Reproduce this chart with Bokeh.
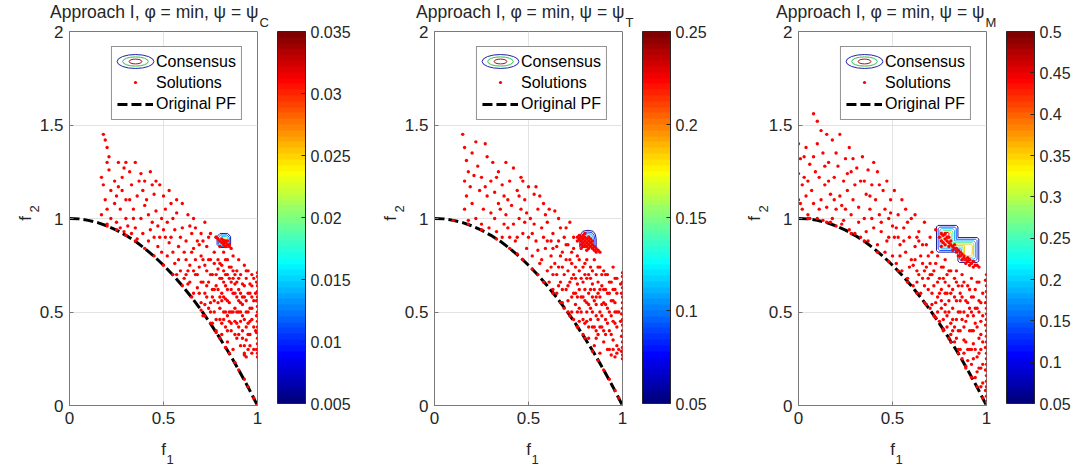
import numpy as np
from bokeh.plotting import figure
from bokeh.layouts import row
from bokeh.models import (Range1d, FixedTicker, CustomJSTickFormatter,
                          Label, Legend, LegendItem, ColorBar, LinearColorMapper,
                          ColumnDataSource)
from bokeh.embed import file_html
from bokeh.resources import INLINE

# ------------------------------------------------------------------ data
x_ticks = [0, 0.5, 1]
y_ticks = [0, 0.5, 1, 1.5, 2]

title_main = "Approach I, \u03c6 = min, \u03c8 = \u03c8"
psi_subscripts = ["C", "T", "M"]

# Original Pareto front
pf_f1 = [0.0, 0.05, 0.1, 0.15, 0.2, 0.25, 0.3, 0.35, 0.4, 0.45, 0.5,
         0.55, 0.6, 0.65, 0.7, 0.75, 0.8, 0.85, 0.9, 0.95, 1.0]
pf_f2 = [1.0, 0.998, 0.99, 0.978, 0.96, 0.938, 0.91, 0.878, 0.84, 0.798, 0.75,
         0.698, 0.64, 0.578, 0.51, 0.438, 0.36, 0.278, 0.19, 0.098, 0.0]

# colour-bar ranges and ticks
cbar_low = [0.005, 0.05, 0.05]
cbar_high = [0.035, 0.25, 0.5]
cbar1_ticks = [0.005, 0.01, 0.015, 0.02, 0.025, 0.03, 0.035]
cbar2_ticks = [0.05, 0.1, 0.15, 0.2, 0.25]
cbar3_ticks = [0.05, 0.1, 0.15, 0.2, 0.25, 0.3, 0.35, 0.4, 0.45, 0.5]

# solutions, panel 1 (psi_C)
sol1 = [
    (0.18, 1.45), (0.19, 1.42), (0.2, 1.38), (0.17, 1.22), (0.18, 1.18), (0.2, 1.3), (0.21, 1.26),
    (0.19, 1.1), (0.2, 1.05), (0.22, 1.15), (0.21, 1.33), (0.17, 1.02), (0.22, 1.0), (0.2, 0.97),
    (0.24, 1.2), (0.25, 1.12), (0.26, 1.3), (0.27, 1.05), (0.28, 1.22), (0.29, 1.27), (0.25, 0.98),
    (0.27, 0.95), (0.3, 1.1), (0.28, 1.15), (0.24, 1.08), (0.3, 1.0), (0.26, 1.17), (0.29, 0.93),
    (0.3, 1.3), (0.32, 1.25), (0.33, 1.18), (0.34, 1.05), (0.35, 1.3), (0.36, 1.12), (0.31, 0.96),
    (0.33, 0.92), (0.37, 1.2), (0.38, 1.0), (0.39, 1.15), (0.35, 0.95), (0.4, 1.07), (0.36, 0.89),
    (0.38, 1.24), (0.32, 1.1), (0.34, 1.0), (0.39, 0.92), (0.4, 1.2), (0.41, 1.1), (0.42, 0.88),
    (0.43, 1.25), (0.44, 0.98), (0.45, 1.13), (0.46, 1.04), (0.47, 0.85), (0.48, 1.18), (0.43, 0.94),
    (0.45, 0.9), (0.49, 1.0), (0.5, 1.12), (0.42, 1.02), (0.47, 0.96), (0.49, 0.82), (0.44, 1.18),
    (0.46, 1.2), (0.48, 0.9), (0.5, 0.94), (0.51, 1.05), (0.52, 0.8), (0.53, 1.15), (0.54, 0.9),
    (0.55, 1.0), (0.56, 0.76), (0.57, 1.1), (0.58, 0.85), (0.52, 0.98), (0.53, 0.87), (0.55, 0.82),
    (0.56, 0.94), (0.57, 1.03), (0.59, 0.72), (0.6, 0.95), (0.58, 0.78), (0.6, 1.08), (0.51, 0.9),
    (0.54, 1.08), (0.59, 0.9), (0.57, 0.7), (0.61, 0.68), (0.62, 0.88), (0.63, 1.02), (0.64, 0.75),
    (0.65, 0.82), (0.66, 0.6), (0.67, 0.95), (0.68, 0.7), (0.69, 0.86), (0.7, 0.55), (0.62, 0.78),
    (0.63, 0.65), (0.65, 0.92), (0.66, 1.0), (0.67, 0.78), (0.68, 0.63), (0.69, 0.74), (0.7, 0.92),
    (0.61, 0.82), (0.64, 0.96), (0.66, 0.72), (0.7, 0.66), (0.68, 0.88), (0.63, 0.72), (0.7, 0.8),
    (0.71, 0.48), (0.72, 0.98), (0.72, 0.6), (0.73, 0.72), (0.73, 0.85), (0.74, 0.52), (0.74, 0.66),
    (0.75, 0.78), (0.75, 0.92), (0.76, 0.44), (0.76, 0.58), (0.76, 0.7), (0.77, 0.82), (0.77, 0.5),
    (0.78, 0.64), (0.78, 0.9), (0.78, 0.4), (0.79, 0.73), (0.79, 0.55), (0.8, 0.46), (0.8, 0.68),
    (0.8, 0.85), (0.71, 0.88), (0.72, 0.75), (0.74, 0.9), (0.77, 0.62), (0.79, 0.78), (0.8, 0.58),
    (0.75, 0.55), (0.73, 0.58), (0.81, 0.38), (0.81, 0.6), (0.81, 0.75), (0.82, 0.5), (0.82, 0.66),
    (0.82, 0.82), (0.83, 0.42), (0.83, 0.57), (0.83, 0.7), (0.84, 0.34), (0.84, 0.48), (0.84, 0.62),
    (0.84, 0.78), (0.85, 0.55), (0.85, 0.68), (0.85, 0.86), (0.86, 0.4), (0.86, 0.5), (0.86, 0.74),
    (0.87, 0.3), (0.87, 0.6), (0.87, 0.8), (0.88, 0.45), (0.88, 0.65), (0.88, 0.52), (0.89, 0.36),
    (0.89, 0.72), (0.89, 0.58), (0.9, 0.42), (0.9, 0.78), (0.9, 0.62), (0.86, 0.62), (0.83, 0.5),
    (0.85, 0.45), (0.82, 0.58), (0.88, 0.38), (0.87, 0.68), (0.84, 0.7), (0.81, 0.68), (0.89, 0.5),
    (0.91, 0.32), (0.91, 0.55), (0.91, 0.7), (0.92, 0.4), (0.92, 0.48), (0.92, 0.65), (0.93, 0.27),
    (0.93, 0.28), (0.94, 0.26), (0.93, 0.58), (0.93, 0.75), (0.94, 0.35), (0.94, 0.5), (0.94, 0.68),
    (0.95, 0.3), (0.95, 0.44), (0.95, 0.6), (0.95, 0.72), (0.96, 0.38), (0.96, 0.52), (0.96, 0.65),
    (0.97, 0.28), (0.97, 0.46), (0.97, 0.58), (0.97, 0.7), (0.91, 0.45), (0.92, 0.58), (0.94, 0.42),
    (0.96, 0.45), (0.9, 0.5),
    (1.0, 0.26), (1.0, 0.28), (0.995, 0.3), (1.0, 0.33), (1.0, 0.36), (0.995, 0.39), (1.0, 0.42),
    (1.0, 0.45), (0.995, 0.48), (1.0, 0.5), (1.0, 0.53), (0.995, 0.56), (1.0, 0.58), (1.0, 0.61),
    (1.0, 0.64), (0.995, 0.66), (1.0, 0.69), (1.0, 0.71), (0.99, 0.4), (0.99, 0.6),
    (0.2, 0.96), (0.3, 0.91), (0.4, 0.84), (0.5, 0.75), (0.55, 0.7), (0.6, 0.64), (0.65, 0.58),
    (0.7, 0.51), (0.75, 0.44), (0.8, 0.36), (0.85, 0.28), (0.9, 0.19), (0.95, 0.1), (0.98, 0.04),
    (1.0, 0.0), (0.45, 0.8), (0.35, 0.88), (0.25, 0.94), (0.72, 0.48), (0.78, 0.39), (0.83, 0.31),
    (0.88, 0.23), (0.93, 0.14),
    (0.8, 0.88), (0.81, 0.87), (0.82, 0.86), (0.83, 0.87), (0.84, 0.86), (0.82, 0.88), (0.83, 0.85),
    (0.81, 0.89), (0.84, 0.88), (0.82, 0.87), (0.78, 0.9), (0.79, 0.89), (0.85, 0.85), (0.86, 0.84),
    (0.83, 0.88),
]
sol1_dense = [
    (0.62, 0.7), (0.64, 0.66), (0.66, 0.84), (0.67, 0.7), (0.69, 0.6), (0.71, 0.66), (0.71, 0.78),
    (0.72, 0.54), (0.73, 0.64), (0.74, 0.78), (0.75, 0.5), (0.75, 0.7), (0.76, 0.62), (0.77, 0.56),
    (0.77, 0.76), (0.78, 0.46), (0.78, 0.7), (0.79, 0.62), (0.8, 0.52), (0.8, 0.76), (0.81, 0.44),
    (0.81, 0.56), (0.82, 0.72), (0.82, 0.46), (0.83, 0.64), (0.83, 0.78), (0.84, 0.4), (0.84, 0.56),
    (0.85, 0.5), (0.85, 0.74), (0.86, 0.44), (0.86, 0.66), (0.87, 0.5), (0.87, 0.72), (0.88, 0.6),
    (0.88, 0.7), (0.89, 0.44), (0.89, 0.66), (0.9, 0.56), (0.9, 0.68), (0.9, 0.38), (0.91, 0.6),
    (0.91, 0.5), (0.92, 0.36), (0.92, 0.54), (0.93, 0.46), (0.93, 0.64), (0.94, 0.56), (0.94, 0.72),
    (0.95, 0.5), (0.95, 0.38), (0.96, 0.6), (0.96, 0.32), (0.97, 0.52), (0.97, 0.64), (0.98, 0.42),
    (0.98, 0.56), (0.98, 0.68), (0.98, 0.3), (0.93, 0.32),
]

# solutions, panel 2 (psi_T)
sol2 = [
    (0.15, 1.45), (0.16, 1.38), (0.17, 1.31), (0.16, 1.2), (0.17, 1.12), (0.16, 1.05), (0.18, 1.25),
    (0.19, 1.17), (0.2, 1.08), (0.18, 0.99), (0.2, 1.35), (0.22, 1.41), (0.23, 1.28), (0.24, 1.15),
    (0.25, 1.22), (0.26, 1.05), (0.27, 1.4), (0.28, 1.33), (0.28, 1.12), (0.29, 0.95), (0.3, 1.2),
    (0.22, 1.0), (0.25, 0.97), (0.27, 1.17), (0.21, 1.23), (0.3, 1.03),
    (0.31, 1.3), (0.32, 1.14), (0.33, 0.93), (0.34, 1.25), (0.35, 1.05), (0.36, 1.18), (0.37, 0.97),
    (0.38, 1.3), (0.39, 1.1), (0.4, 0.9), (0.32, 1.0), (0.34, 1.08), (0.36, 0.9), (0.38, 1.02),
    (0.4, 1.2), (0.33, 1.22), (0.37, 1.12), (0.39, 0.95),
    (0.41, 1.07), (0.42, 1.27), (0.43, 0.88), (0.44, 1.15), (0.45, 1.0), (0.46, 1.22), (0.47, 0.92),
    (0.48, 1.1), (0.49, 0.84), (0.5, 1.17), (0.42, 0.97), (0.44, 0.9), (0.46, 1.05), (0.48, 0.98),
    (0.5, 0.9), (0.45, 1.12), (0.47, 1.2), (0.49, 1.03),
    (0.51, 1.0), (0.52, 0.8), (0.53, 1.13), (0.54, 0.88), (0.55, 1.05), (0.56, 0.76), (0.57, 0.95),
    (0.58, 1.08), (0.59, 0.84), (0.6, 0.72), (0.52, 0.92), (0.54, 1.17), (0.55, 0.83), (0.57, 0.78),
    (0.58, 0.9), (0.6, 0.98), (0.53, 0.97), (0.56, 1.12), (0.59, 1.02), (0.6, 0.88),
    (0.61, 1.05), (0.61, 0.66), (0.62, 0.8), (0.63, 0.92), (0.63, 0.7), (0.64, 1.04), (0.65, 0.6),
    (0.65, 0.85), (0.66, 0.74), (0.67, 0.95), (0.67, 0.66), (0.68, 0.82), (0.68, 0.55), (0.69, 0.9),
    (0.69, 0.7), (0.7, 0.62), (0.7, 0.78), (0.62, 0.88), (0.64, 0.76), (0.66, 1.0), (0.66, 0.88),
    (0.68, 0.74), (0.7, 0.95), (0.63, 0.62), (0.69, 0.52),
    (0.71, 0.86), (0.71, 0.5), (0.72, 0.66), (0.72, 0.98), (0.73, 0.58), (0.73, 0.76), (0.74, 0.46),
    (0.74, 0.9), (0.75, 0.68), (0.75, 0.54), (0.76, 0.8), (0.76, 0.42), (0.77, 0.62), (0.77, 0.72),
    (0.78, 0.5), (0.78, 0.84), (0.79, 0.38), (0.79, 0.66), (0.8, 0.56), (0.8, 0.76), (0.71, 0.72),
    (0.73, 0.82), (0.75, 0.6), (0.77, 0.45), (0.79, 0.58), (0.8, 0.44), (0.74, 0.7), (0.76, 0.65),
    (0.81, 0.68), (0.81, 0.45), (0.82, 0.6), (0.82, 0.36), (0.83, 0.74), (0.83, 0.52), (0.84, 0.42),
    (0.84, 0.65), (0.85, 0.32), (0.85, 0.56), (0.85, 0.78), (0.86, 0.48), (0.86, 0.7), (0.87, 0.38),
    (0.87, 0.6), (0.88, 0.28), (0.88, 0.5), (0.88, 0.74), (0.89, 0.42), (0.89, 0.64), (0.9, 0.34),
    (0.9, 0.55), (0.9, 0.72), (0.81, 0.55), (0.83, 0.62), (0.84, 0.5), (0.86, 0.58), (0.87, 0.66),
    (0.89, 0.48), (0.82, 0.7), (0.86, 0.4), (0.88, 0.58),
    (0.91, 0.46), (0.91, 0.62), (0.92, 0.3), (0.92, 0.52), (0.92, 0.7), (0.93, 0.4), (0.93, 0.6),
    (0.94, 0.27), (0.94, 0.48), (0.94, 0.66), (0.95, 0.35), (0.95, 0.56), (0.95, 0.74), (0.96, 0.26),
    (0.96, 0.44), (0.96, 0.62), (0.97, 0.32), (0.97, 0.5), (0.97, 0.68), (0.91, 0.38), (0.93, 0.5),
    (0.95, 0.45), (0.97, 0.28), (0.96, 0.55),
    (1.0, 0.25), (1.0, 0.27), (0.995, 0.29), (1.0, 0.31), (1.0, 0.34), (0.995, 0.37), (1.0, 0.4),
    (1.0, 0.43), (1.0, 0.46), (0.995, 0.49), (1.0, 0.52), (1.0, 0.55), (1.0, 0.58), (0.995, 0.6),
    (1.0, 0.63), (1.0, 0.66), (1.0, 0.69), (1.0, 0.71), (0.99, 0.45), (0.99, 0.65),
    (0.1, 0.99), (0.18, 0.97), (0.25, 0.94), (0.33, 0.89), (0.4, 0.84), (0.47, 0.78), (0.52, 0.73),
    (0.58, 0.66), (0.63, 0.6), (0.67, 0.55), (0.72, 0.48), (0.76, 0.42), (0.8, 0.36), (0.84, 0.29),
    (0.87, 0.24), (0.9, 0.19), (0.93, 0.14), (0.96, 0.08), (0.98, 0.04), (1.0, 0.0), (0.55, 0.7),
    (0.44, 0.81),
    (0.76, 0.9), (0.77, 0.91), (0.78, 0.9), (0.78, 0.88), (0.79, 0.89), (0.79, 0.87), (0.8, 0.9),
    (0.8, 0.88), (0.8, 0.86), (0.81, 0.89), (0.81, 0.87), (0.81, 0.85), (0.82, 0.88), (0.82, 0.86),
    (0.82, 0.84), (0.83, 0.87), (0.83, 0.85), (0.84, 0.86), (0.84, 0.84), (0.85, 0.85), (0.85, 0.83),
    (0.86, 0.84), (0.86, 0.82), (0.87, 0.83), (0.88, 0.82), (0.77, 0.89), (0.79, 0.91), (0.8, 0.92),
    (0.83, 0.89), (0.78, 0.86), (0.8, 0.85), (0.84, 0.88), (0.82, 0.9), (0.76, 0.88), (0.81, 0.83),
    (0.79, 0.85),
]
sol2_dense = [
    (0.62, 0.74), (0.63, 0.84), (0.65, 0.7), (0.66, 0.64), (0.67, 0.8), (0.68, 0.62), (0.7, 0.86),
    (0.71, 0.56), (0.71, 0.64), (0.72, 0.78), (0.73, 0.5), (0.73, 0.68), (0.74, 0.6), (0.74, 0.84),
    (0.75, 0.74), (0.76, 0.5), (0.76, 0.58), (0.77, 0.78), (0.77, 0.52), (0.78, 0.68), (0.78, 0.58),
    (0.79, 0.74), (0.79, 0.46), (0.8, 0.62), (0.8, 0.7), (0.81, 0.5), (0.81, 0.78), (0.82, 0.42),
    (0.82, 0.54), (0.83, 0.46), (0.83, 0.68), (0.84, 0.58), (0.84, 0.72), (0.85, 0.42), (0.85, 0.62),
    (0.86, 0.36), (0.86, 0.54), (0.87, 0.46), (0.87, 0.74), (0.88, 0.42), (0.88, 0.62), (0.89, 0.54),
    (0.89, 0.7), (0.9, 0.4), (0.9, 0.62), (0.91, 0.54), (0.91, 0.7), (0.92, 0.44), (0.92, 0.6),
    (0.93, 0.3), (0.93, 0.66), (0.94, 0.38), (0.94, 0.56), (0.95, 0.3), (0.95, 0.62), (0.96, 0.5),
    (0.96, 0.68), (0.97, 0.42), (0.97, 0.6), (0.98, 0.3), (0.98, 0.5),
]

# solutions, panel 3 (psi_M)
sol3 = [
    (0.0, 1.4), (0.0, 1.24), (0.0, 1.1), (0.01, 1.32), (0.02, 1.18), (0.02, 1.05), (0.03, 1.33),
    (0.04, 1.12), (0.05, 1.2), (0.05, 1.02), (0.06, 1.29), (0.07, 1.15), (0.08, 1.56), (0.08, 1.08),
    (0.09, 1.25), (0.1, 1.52), (0.1, 1.0), (0.1, 1.4), (0.04, 1.38), (0.06, 1.0), (0.01, 1.08),
    (0.03, 1.22), (0.08, 1.33),
    (0.11, 1.22), (0.12, 1.47), (0.12, 1.1), (0.13, 1.35), (0.13, 0.99), (0.14, 1.18), (0.15, 1.45),
    (0.15, 1.06), (0.16, 1.3), (0.17, 1.13), (0.18, 1.42), (0.18, 1.0), (0.19, 1.22), (0.2, 1.05),
    (0.2, 1.35), (0.11, 1.05), (0.14, 1.28), (0.16, 1.2), (0.19, 1.1), (0.17, 0.98),
    (0.21, 1.28), (0.22, 1.45), (0.22, 1.12), (0.23, 0.97), (0.24, 1.2), (0.25, 1.32), (0.25, 1.05),
    (0.26, 1.15), (0.27, 1.38), (0.27, 0.94), (0.28, 1.25), (0.28, 1.02), (0.29, 1.1), (0.3, 1.18),
    (0.3, 0.92), (0.23, 1.07), (0.26, 1.24), (0.29, 1.32), (0.24, 0.99),
    (0.31, 1.27), (0.32, 1.06), (0.33, 1.2), (0.33, 0.9), (0.34, 1.33), (0.35, 1.0), (0.36, 1.13),
    (0.37, 1.26), (0.37, 0.88), (0.38, 1.05), (0.39, 1.18), (0.4, 0.95), (0.4, 1.3), (0.32, 0.98),
    (0.35, 1.2), (0.36, 0.93), (0.38, 1.12), (0.39, 1.0),
    (0.41, 1.1), (0.42, 0.86), (0.42, 1.25), (0.43, 1.02), (0.44, 0.93), (0.45, 1.15), (0.46, 0.82),
    (0.46, 1.05), (0.47, 1.2), (0.48, 0.9), (0.48, 1.0), (0.49, 1.1), (0.5, 0.8), (0.5, 0.96),
    (0.43, 1.18), (0.44, 0.98), (0.47, 0.88), (0.49, 1.03),
    (0.51, 1.15), (0.51, 0.9), (0.52, 0.76), (0.53, 1.02), (0.54, 0.86), (0.55, 1.1), (0.55, 0.72),
    (0.56, 0.95), (0.57, 0.82), (0.57, 1.05), (0.58, 0.68), (0.59, 0.9), (0.6, 1.0), (0.6, 0.78),
    (0.52, 0.95), (0.54, 0.8), (0.56, 0.88), (0.58, 0.98), (0.59, 0.74), (0.53, 0.9),
    (0.61, 0.64), (0.62, 0.85), (0.62, 1.02), (0.63, 0.72), (0.64, 0.93), (0.65, 0.6), (0.65, 0.8),
    (0.66, 0.68), (0.67, 0.98), (0.67, 0.55), (0.68, 0.86), (0.68, 0.74), (0.69, 0.62), (0.7, 0.9),
    (0.7, 0.52), (0.63, 0.66), (0.64, 0.88), (0.66, 0.76), (0.69, 0.8), (0.7, 0.7), (0.61, 0.75),
    (0.67, 0.64),
    (0.71, 0.82), (0.71, 0.6), (0.72, 0.48), (0.72, 0.72), (0.73, 0.94), (0.73, 0.55), (0.74, 0.66),
    (0.74, 0.8), (0.75, 0.45), (0.75, 0.6), (0.76, 0.74), (0.76, 0.52), (0.77, 0.68), (0.77, 0.4),
    (0.78, 0.6), (0.78, 0.78), (0.79, 0.48), (0.79, 0.7), (0.8, 0.36), (0.8, 0.56), (0.71, 0.7),
    (0.74, 0.58), (0.76, 0.62), (0.78, 0.5), (0.8, 0.64),
    (0.81, 0.44), (0.81, 0.72), (0.82, 0.52), (0.82, 0.62), (0.83, 0.34), (0.83, 0.68), (0.84, 0.46),
    (0.84, 0.56), (0.85, 0.3), (0.85, 0.64), (0.86, 0.4), (0.86, 0.5), (0.87, 0.25), (0.87, 0.58),
    (0.88, 0.35), (0.88, 0.66), (0.89, 0.45), (0.89, 0.2), (0.9, 0.3), (0.9, 0.55), (0.82, 0.4),
    (0.84, 0.66), (0.86, 0.6), (0.88, 0.5), (0.87, 0.7),
    (0.91, 0.4), (0.91, 0.62), (0.92, 0.22), (0.92, 0.5), (0.93, 0.33), (0.93, 0.58), (0.94, 0.15),
    (0.94, 0.44), (0.95, 0.26), (0.95, 0.52), (0.95, 0.66), (0.96, 0.2), (0.96, 0.36), (0.97, 0.1),
    (0.97, 0.3), (0.97, 0.45), (0.98, 0.22), (0.98, 0.6), (0.92, 0.68), (0.94, 0.62), (0.96, 0.56),
    (0.93, 0.4), (0.97, 0.38),
    (1.0, 0.02), (1.0, 0.05), (0.995, 0.08), (1.0, 0.1), (1.0, 0.13), (1.0, 0.16), (0.995, 0.19),
    (1.0, 0.22), (1.0, 0.25), (1.0, 0.28), (0.995, 0.31), (1.0, 0.34), (1.0, 0.37), (1.0, 0.4),
    (0.995, 0.43), (1.0, 0.46), (1.0, 0.49), (1.0, 0.52), (0.995, 0.55), (1.0, 0.58), (1.0, 0.61),
    (1.0, 0.64), (0.995, 0.67), (1.0, 0.7),
    (0.05, 1.0), (0.15, 0.98), (0.2, 0.96), (0.28, 0.92), (0.35, 0.88), (0.42, 0.82), (0.48, 0.77),
    (0.53, 0.72), (0.58, 0.66), (0.63, 0.6), (0.68, 0.54), (0.73, 0.47), (0.77, 0.41), (0.81, 0.34),
    (0.85, 0.28), (0.89, 0.21), (0.92, 0.15), (0.95, 0.1), (0.98, 0.04), (1.0, 0.0),
    (0.75, 0.9), (0.76, 0.88), (0.77, 0.91), (0.77, 0.87), (0.78, 0.89), (0.78, 0.86), (0.79, 0.9),
    (0.79, 0.88), (0.8, 0.87), (0.8, 0.85), (0.81, 0.88), (0.81, 0.86), (0.82, 0.85), (0.82, 0.83),
    (0.83, 0.86), (0.84, 0.84), (0.84, 0.82), (0.85, 0.83), (0.86, 0.82), (0.86, 0.8), (0.87, 0.81),
    (0.88, 0.79), (0.88, 0.8), (0.89, 0.78), (0.9, 0.79), (0.9, 0.77), (0.91, 0.78), (0.92, 0.76),
    (0.93, 0.77), (0.94, 0.75), (0.95, 0.75), (0.96, 0.74), (0.87, 0.78), (0.89, 0.76), (0.91, 0.75),
    (0.93, 0.74), (0.85, 0.8), (0.83, 0.84), (0.76, 0.85), (0.78, 0.92), (0.8, 0.9), (0.76, 0.92),
]
sol3_dense = [
    (0.62, 0.78), (0.63, 0.9), (0.64, 0.7), (0.66, 0.86), (0.67, 0.72), (0.69, 0.68), (0.7, 0.76),
    (0.71, 0.54), (0.72, 0.64), (0.73, 0.76), (0.74, 0.5), (0.75, 0.68), (0.76, 0.56), (0.77, 0.46),
    (0.77, 0.74), (0.78, 0.54), (0.78, 0.66), (0.79, 0.42), (0.79, 0.6), (0.8, 0.5), (0.8, 0.72),
    (0.81, 0.38), (0.81, 0.6), (0.82, 0.46), (0.83, 0.58), (0.83, 0.42), (0.84, 0.36), (0.84, 0.72),
    (0.85, 0.5), (0.85, 0.4), (0.86, 0.56), (0.86, 0.3), (0.87, 0.46), (0.87, 0.64), (0.88, 0.28),
    (0.88, 0.42), (0.89, 0.56), (0.89, 0.34), (0.9, 0.48), (0.9, 0.64), (0.91, 0.3), (0.91, 0.52),
    (0.92, 0.4), (0.92, 0.58), (0.93, 0.25), (0.93, 0.48), (0.94, 0.3), (0.94, 0.52), (0.95, 0.42),
    (0.95, 0.18), (0.96, 0.5), (0.96, 0.28), (0.97, 0.2), (0.97, 0.55), (0.98, 0.34), (0.98, 0.12),
    (0.98, 0.48), (0.96, 0.66), (0.92, 0.3), (0.9, 0.24),
]

# consensus contours, panel 1: rounded boxes (outer -> inner)
cont1_x0 = [0.785, 0.792, 0.799, 0.806, 0.813]
cont1_x1 = [0.857, 0.850, 0.843, 0.836, 0.829]
cont1_y0 = [0.845, 0.851, 0.857, 0.863, 0.868]
cont1_y1 = [0.920, 0.912, 0.904, 0.896, 0.888]
cont1_col = ["#1c1ca8", "#0070ff", "#00d8ff", "#ffd000", "#e00000"]

# consensus contours, panel 2: domes (outer -> inner)
cont2_x0 = [0.773, 0.780, 0.787, 0.794, 0.801, 0.808]
cont2_x1 = [0.860, 0.853, 0.846, 0.839, 0.832, 0.825]
cont2_y0 = [0.845, 0.845, 0.845, 0.845, 0.845, 0.845]
cont2_y1 = [0.937, 0.928, 0.919, 0.910, 0.901, 0.892]
cont2_col = ["#1a1a9a", "#2040ff", "#20a0ff", "#20e0e0", "#90f070", "#f0e020"]

# consensus contours, panel 3: two-lobed staircase (outer shape and inward offsets)
cont3_shape = dict(x0=0.734, xm=0.848, x1=0.959, y0=0.765, ym=0.898, yl=0.82, y1=0.963)
cont3_inset = [0.0, 0.009, 0.018, 0.027, 0.035]
cont3_col = ["#20208a", "#2050ff", "#20b0ff", "#60f0a0", "#f0d020"]
cont3_core = dict(x0=0.783, x1=0.80, y0=0.905, y1=0.925)

# ------------------------------------------------------------------ style
FONT = "Liberation Sans"
TXT = "#262626"
AXC = "#7a7a7a"
GRID = "#e3e3e3"


def jet(n):
    out = []
    for i in range(n):
        t = i / (n - 1)
        r = min(1.0, max(0.0, 1.5 - abs(4 * t - 3)))
        g = min(1.0, max(0.0, 1.5 - abs(4 * t - 2)))
        b = min(1.0, max(0.0, 1.5 - abs(4 * t - 1)))
        out.append("#%02x%02x%02x" % (int(r * 255), int(g * 255), int(b * 255)))
    return out


JET = jet(64)


def num_fmt():
    return CustomJSTickFormatter(code="return String(parseFloat(tick.toFixed(4)));")


def rbox(x0, x1, y0, y1):
    c = min(x1 - x0, y1 - y0) * 0.22
    xs = [x0 + c, x1 - c, x1, x1, x1 - c, x0 + c, x0, x0, x0 + c]
    ys = [y0, y0, y0 + c, y1 - c, y1, y1, y1 - c, y0 + c, y0]
    return xs, ys


def dome(x0, x1, y0, y1):
    w, h = x1 - x0, y1 - y0
    fx = [0, 0, 0.06, 0.2, 0.5, 0.8, 0.94, 1, 1]
    fy = [0, 0.5, 0.78, 0.95, 1, 0.95, 0.78, 0.5, 0]
    return [x0 + a * w for a in fx], [y0 + b * h for b in fy]


def stair(s, d):
    x0, xm, x1 = s["x0"] + d, s["xm"] - d, s["x1"] - d
    xl = s["xm"] + d
    y0, ym, yl, y1 = s["y0"] + d, s["ym"] - d, s["yl"] + d, s["y1"] - d
    c = 0.008
    xs = [x0, x0, x0 + c, xm - c, xm, xm, x1 - c, x1, x1, x1 - c, xl + c, xl, xl, x0 + c, x0]
    ys = [yl + c, y1 - c, y1, y1, y1 - c, ym, ym, ym - c, y0 + c, y0, y0, y0 + c, yl, yl, yl + c]
    return xs, ys


def side_label(p, place, **kw):
    base = dict(text_baseline="middle", text_font=FONT, text_color=TXT)
    base.update(kw)
    p.add_layout(Label(**base), place)


def icon_legend(p, renderer, gw, gh, m):
    # transparent one-item legend used only to draw a legend icon of a given size
    p.add_layout(Legend(items=[LegendItem(label=" ", renderers=[renderer])],
                        location="top_left", margin=m, padding=0, spacing=0,
                        glyph_width=gw, glyph_height=gh, label_height=gh, label_width=0,
                        label_standoff=0, label_text_font_size="1px",
                        border_line_color=None, background_fill_alpha=0))


def make_panel(k, width, right_border, sols, cb_ticks, cxs, cys, ccols, title_dx, sub_dx):
    p = figure(width=width, height=471, x_range=Range1d(0, 1), y_range=Range1d(0, 2),
               output_backend="svg", toolbar_location=None,
               min_border_left=69, min_border_right=right_border,
               min_border_top=31, min_border_bottom=66,
               background_fill_color="white", border_fill_color="white")
    p.title.visible = False
    p.outline_line_color = AXC
    p.xaxis.ticker = FixedTicker(ticks=x_ticks)
    p.yaxis.ticker = FixedTicker(ticks=y_ticks)
    for ax in p.axis:
        ax.axis_line_color = AXC
        ax.major_tick_line_color = AXC
        ax.major_tick_in = 4
        ax.major_tick_out = 0
        ax.minor_tick_line_color = None
        ax.major_label_text_font = FONT
        ax.major_label_text_font_size = "17px"
        ax.major_label_text_color = TXT
        ax.major_label_standoff = 6
        ax.formatter = num_fmt()
        ax.axis_label = "f"
        ax.axis_label_text_font = FONT
        ax.axis_label_text_font_size = "17px"
        ax.axis_label_text_font_style = "normal"
        ax.axis_label_text_color = TXT
    p.xaxis.axis_label_standoff = 13
    p.yaxis.axis_label_standoff = 2
    p.xgrid.ticker = FixedTicker(ticks=x_ticks)
    p.ygrid.ticker = FixedTicker(ticks=y_ticks)
    p.grid.grid_line_color = GRID

    pf = p.line(pf_f1, pf_f2, line_color="black", line_width=3, line_dash="10 4")

    csrc = ColumnDataSource(dict(xs=cxs, ys=cys, color=ccols))
    p.multi_line(xs="xs", ys="ys", line_color="color", line_width=1, source=csrc)

    ssrc = ColumnDataSource(dict(f1=[a for a, b in sols], f2=[b for a, b in sols]))
    p.scatter(x="f1", y="f2", source=ssrc, marker="circle", size=3.4,
              fill_color="#ff0000", line_color=None)

    # legend proxies (NaN positions: only drawn inside legends)
    nan = np.array([np.nan])
    ghost = p.scatter(x=nan, y=nan, marker="circle", fill_alpha=0, line_alpha=0)
    e1 = p.ellipse(x=nan, y=nan, width=37, height=14, width_units="screen",
                   height_units="screen", fill_color=None, line_color="#2020a8", line_width=1)
    e2 = p.ellipse(x=nan, y=nan, width=25, height=9, width_units="screen",
                   height_units="screen", fill_color=None, line_color="#30c050", line_width=1)
    e3 = p.ellipse(x=nan, y=nan, width=12, height=4.5, width_units="screen",
                   height_units="screen", fill_color=None, line_color="#a01818", line_width=1)
    dot = p.scatter(x=nan, y=nan, marker="circle", line_color=None, fill_color="#ff0000")

    leg = Legend(items=[LegendItem(label="Consensus", renderers=[ghost]),
                        LegendItem(label="Solutions", renderers=[ghost]),
                        LegendItem(label="Original PF", renderers=[pf])],
                 location="top_right", margin=15, padding=5, spacing=1,
                 glyph_width=36, glyph_height=20, label_height=20, label_standoff=3,
                 label_text_font=FONT, label_text_font_size="16px", label_text_color="black",
                 border_line_color=TXT, border_line_width=1,
                 background_fill_color="white", background_fill_alpha=1.0)
    p.add_layout(leg)
    # icons centred at (66, 30) and (66, 51) px from the axes' top-left corner
    icon_legend(p, e1, 118, 46, 7)
    icon_legend(p, e2, 104, 32, 14)
    icon_legend(p, e3, 88, 16, 22)
    icon_legend(p, dot, 38, 8, 47)

    # title and subscripts (in side panels so that they are not clipped to the axes box)
    side_label(p, "above", x=1, y=2, x_offset=title_dx, y_offset=20, text=title_main,
               text_align="right", text_font_size="17.5px")
    side_label(p, "right", x=1, y=2, x_offset=sub_dx, y_offset=9.5, text=psi_subscripts[k],
               text_align="left", text_font_size="13px")
    side_label(p, "right", x=0.5, y=0, x_offset=3, y_offset=-53.5, text="1",
               text_align="left", text_font_size="13px")
    side_label(p, "right", x=0, y=1, x_offset=-35, y_offset=6, text="2", angle=np.pi / 2,
               text_align="left", text_font_size="13px")

    cb = ColorBar(color_mapper=LinearColorMapper(palette=JET, low=cbar_low[k], high=cbar_high[k]),
                  ticker=FixedTicker(ticks=cb_ticks), formatter=num_fmt(),
                  location=(208, 2), width=28, height=372, padding=0, margin=0,
                  label_standoff=5, major_label_text_font=FONT,
                  major_label_text_font_size="16px", major_label_text_color=TXT,
                  major_tick_line_color=TXT, major_tick_in=4, major_tick_out=0,
                  minor_tick_line_color=None, bar_line_color=TXT,
                  border_line_color=None, background_fill_alpha=0)
    p.add_layout(cb)
    return p


# contour geometry tables
c1 = [rbox(a, b, c, d) for a, b, c, d in zip(cont1_x0, cont1_x1, cont1_y0, cont1_y1)]
c2 = [dome(a, b, c, d) for a, b, c, d in zip(cont2_x0, cont2_x1, cont2_y0, cont2_y1)]
c3 = [stair(cont3_shape, d) for d in cont3_inset]
c3.append(rbox(cont3_core["x0"], cont3_core["x1"], cont3_core["y0"], cont3_core["y1"]))
c3_col = cont3_col + ["#e00000"]

p1 = make_panel(0, 365, 108, sol1 + sol1_dense, cbar1_ticks,
                [a for a, b in c1], [b for a, b in c1], cont1_col, 1, 2)
p2 = make_panel(1, 364, 107, sol2 + sol2_dense, cbar2_ticks,
                [a for a, b in c2], [b for a, b in c2], cont2_col, 2, 3)
p3 = make_panel(2, 343, 86, sol3 + sol3_dense, cbar3_ticks,
                [a for a, b in c3], [b for a, b in c3], c3_col, -2, -1)

layout = row(p1, p2, p3)
open("out.html", "w").write(file_html(layout, INLINE))
